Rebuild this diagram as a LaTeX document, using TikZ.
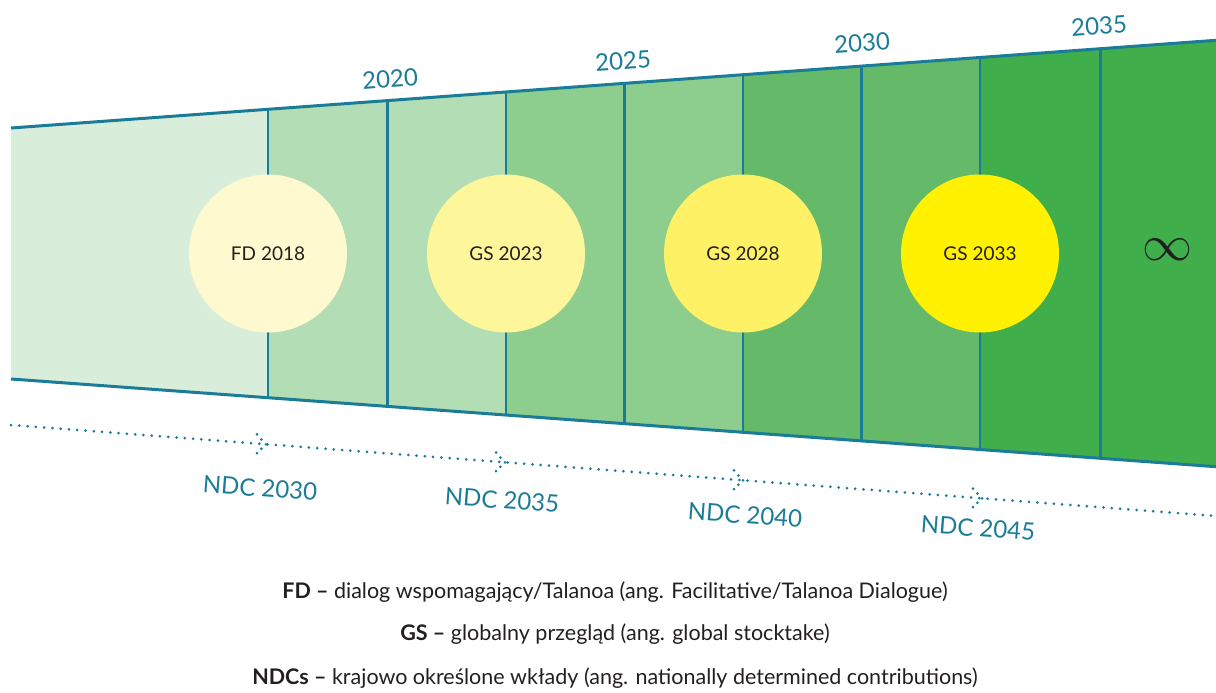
\documentclass[tikz,border=0pt]{standalone}
\usepackage{graphicx}
\usepackage{fontspec}
\setmainfont{Lato}
\usetikzlibrary{calc}
\definecolor{lineteal}{HTML}{1B7C98}
\definecolor{ink}{HTML}{231F20}
\definecolor{band1}{HTML}{D9EEDA}
\definecolor{band2}{HTML}{B3DDB5}
\definecolor{band3}{HTML}{8DCE8F}
\definecolor{band4}{HTML}{64BA69}
\definecolor{band5}{HTML}{40AE4B}
\definecolor{spot1}{HTML}{FEF9CE}
\definecolor{spot2}{HTML}{FDF69B}
\definecolor{spot3}{HTML}{FEF166}
\definecolor{spot4}{HTML}{FFF100}

\begin{document}
\begin{tikzpicture}[x=1pt, y=-1pt,
  every node/.style={inner sep=0pt, text=lineteal},
  edge/.style={draw=lineteal, line width=3pt},
  spot/.style={circle, minimum size=158pt, text=ink, font=\fontsize{19}{19}\selectfont},
  year/.style={font=\fontsize{24}{24}\selectfont, rotate=4.2},
  ndc/.style={font=\fontsize{24}{24}\selectfont, rotate=-4.3},
  legend/.style={text=ink, font=\fontsize{21.5}{21.5}\selectfont},
  dots/.style={draw=lineteal, line width=3pt, line cap=round, dash pattern=on 0pt off 8.3pt}]
  \useasboundingbox (0,0) rectangle (1216,693);
  % corners of the funnel
  \coordinate (tl) at (11,128);
  \coordinate (tr) at (1216,40);
  \coordinate (br) at (1216,467);
  \coordinate (bl) at (11,379);
  % bands, one colour per ten years
  \begin{scope}
    \clip (tl) -- (tr) -- (br) -- (bl) -- cycle;
    \foreach \xa/\xb/\c in {11/268/band1, 268/506/band2, 506/743/band3, 743/980/band4, 980/1220/band5}
      \fill[\c] (\xa,0) rectangle (\xb,693);
    \foreach \x in {268,506,743,980}
      \draw[lineteal, line width=1.5pt] (\x,0) -- (\x,693);
    \foreach \x in {387,624,861,1100}
      \draw[lineteal, line width=3pt] (\x,0) -- (\x,693);
  \end{scope}
  \draw[edge] (tl) -- ($(tr)+(4,0)$);
  \draw[edge] (bl) -- ($(br)+(4,0)$);
  % years along the top
  \node[year] (y2020) at (390,79) {2020};
  \node[year] (y2025) at (623,61) {2025};
  \node[year] (y2030) at (862,43) {2030};
  \node[year] (y2035) at (1099,26) {2035};
  % dialogue and stocktakes
  \node[spot, fill=spot1] (fd2018) at (268,253.5) {FD 2018};
  \node[spot, fill=spot2] (gs2023) at (506,253.5) {GS 2023};
  \node[spot, fill=spot3] (gs2028) at (743,253.5) {GS 2028};
  \node[spot, fill=spot4] (gs2033) at (980,253.5) {GS 2033};
  \node[text=ink] (inf) at (1167,250) {\scalebox{5}{$\infty$}};
  % NDC timeline
  \coordinate (d0) at (11,425);
  \coordinate (d5) at (1216,516);
  \foreach \i/\x in {1/266, 2/505, 3/743, 4/982}
    \coordinate (n\i) at (\x,{425+0.0755*(\x-11)});
  \draw[dots] (d0) -- (n1) -- (n2) -- (n3) -- (n4) -- (d5);
  \foreach \i in {1,...,4}
    \foreach \dx/\dy in {0/0, -4.6/-4.8, -9/-9.8, -4.6/4.5, -9/8.8}
      \fill[lineteal] ($(n\i)+(\dx,\dy)$) circle (1.5);
  \node[ndc] (ndc2030) at (260,488) {NDC 2030};
  \node[ndc] (ndc2035) at (502,500) {NDC 2035};
  \node[ndc] (ndc2040) at (745,515) {NDC 2040};
  \node[ndc] (ndc2045) at (978,528) {NDC 2045};
  % key
  \node[legend] (keyfd) at (615,592) {\textbf{FD –} dialog wspomagający/Talanoa (ang. Facilitative/Talanoa Dialogue)};
  \node[legend] (keygs) at (615,634) {\textbf{GS –} globalny przegląd (ang. global stocktake)};
  \node[legend] (keyndc) at (615,678) {\textbf{NDCs –} krajowo określone wkłady (ang. nationally determined contributions)};
\end{tikzpicture}
\end{document}
